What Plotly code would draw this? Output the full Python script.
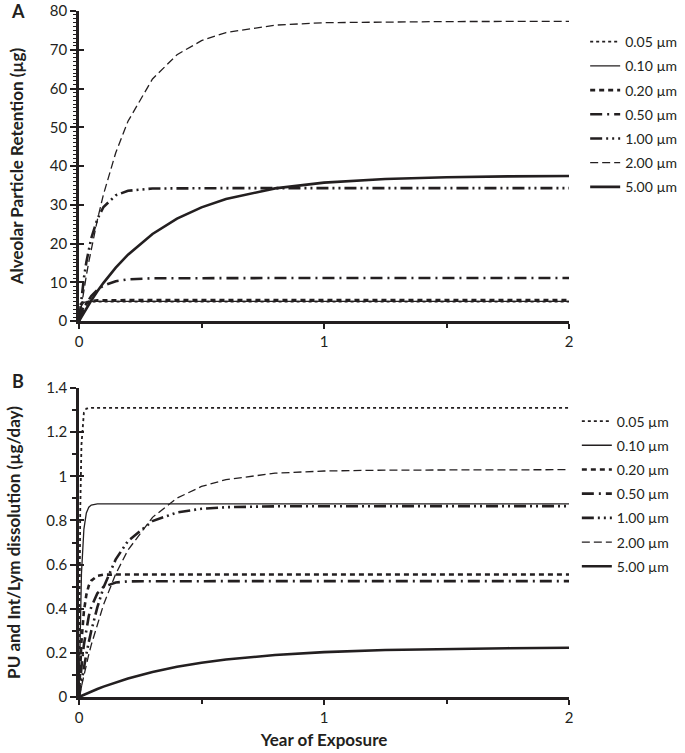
import plotly.graph_objects as go

# exposure time (years)
years = [0, 0.005, 0.01, 0.02, 0.03, 0.04, 0.05, 0.075, 0.1, 0.15, 0.2,
         0.3, 0.4, 0.5, 0.6, 0.8, 1.0, 1.25, 1.5, 1.75, 2.0]

sizes = ["0.05 µm", "0.10 µm", "0.20 µm", "0.50 µm", "1.00 µm", "2.00 µm", "5.00 µm"]

# Panel A: alveolar particle retention (µg)
ret_005 = [0, 3.9, 4.75, 4.99, 5.0, 5.0, 5.0, 5.0, 5.0, 5.0, 5.0,
           5.0, 5.0, 5.0, 5.0, 5.0, 5.0, 5.0, 5.0, 5.0, 5.0]
ret_010 = [0, 2.69, 3.96, 4.85, 5.04, 5.09, 5.1, 5.1, 5.1, 5.1, 5.1,
           5.1, 5.1, 5.1, 5.1, 5.1, 5.1, 5.1, 5.1, 5.1, 5.1]
ret_020 = [0, 1.40, 2.44, 3.78, 4.51, 4.91, 5.13, 5.34, 5.39, 5.4, 5.4,
           5.4, 5.4, 5.4, 5.4, 5.4, 5.4, 5.4, 5.4, 5.4, 5.4]
ret_050 = [0, 0.92, 1.76, 3.24, 4.50, 5.54, 6.43, 8.07, 9.14, 10.28, 10.75,
           11.04, 11.09, 11.1, 11.1, 11.1, 11.1, 11.1, 11.1, 11.1, 11.1]
ret_100 = [0, 3.19, 6.08, 11.08, 15.19, 18.59, 21.37, 26.34, 29.43, 32.45, 33.61,
           34.2, 34.29, 34.3, 34.3, 34.3, 34.3, 34.3, 34.3, 34.3, 34.3]
ret_200 = [0, 2.10, 4.14, 8.05, 11.75, 15.27, 18.55, 26.13, 32.70, 43.44, 51.56,
           62.46, 68.72, 72.35, 74.44, 76.35, 76.98, 77.22, 77.28, 77.3, 77.3]
ret_500 = [0, 0.57, 1.13, 2.22, 3.28, 4.31, 5.30, 7.67, 9.86, 13.77, 17.13,
           22.48, 26.43, 29.34, 31.48, 34.23, 35.72, 36.67, 37.11, 37.32, 37.42]

# Panel B: PU and Int/Lym dissolution (µg/day)
dis_005 = [0, 0.842, 1.143, 1.289, 1.307, 1.31, 1.31, 1.31, 1.31, 1.31, 1.31,
           1.31, 1.31, 1.31, 1.31, 1.31, 1.31, 1.31, 1.31, 1.31, 1.31]
dis_010 = [0, 0.350, 0.559, 0.761, 0.834, 0.860, 0.870, 0.875, 0.875, 0.875, 0.875,
           0.875, 0.875, 0.875, 0.875, 0.875, 0.875, 0.875, 0.875, 0.875, 0.875]
dis_020 = [0, 0.144, 0.250, 0.388, 0.463, 0.505, 0.527, 0.549, 0.554, 0.555, 0.555,
           0.555, 0.555, 0.555, 0.555, 0.555, 0.555, 0.555, 0.555, 0.555, 0.555]
dis_050 = [0, 0.073, 0.136, 0.237, 0.311, 0.367, 0.408, 0.470, 0.499, 0.519, 0.524,
           0.525, 0.525, 0.525, 0.525, 0.525, 0.525, 0.525, 0.525, 0.525, 0.525]
dis_100 = [0, 0.036, 0.070, 0.135, 0.195, 0.249, 0.299, 0.407, 0.496, 0.624, 0.707,
           0.797, 0.836, 0.853, 0.860, 0.864, 0.865, 0.865, 0.865, 0.865, 0.865]
dis_200 = [0, 0.026, 0.052, 0.102, 0.149, 0.193, 0.236, 0.333, 0.418, 0.558, 0.666,
           0.814, 0.901, 0.954, 0.985, 1.014, 1.024, 1.028, 1.029, 1.03, 1.03]
dis_500 = [0, 0.0026, 0.0052, 0.0103, 0.0153, 0.0201, 0.0248, 0.0362, 0.0470, 0.0666, 0.0841,
           0.1134, 0.1368, 0.1553, 0.1697, 0.1904, 0.2033, 0.2129, 0.2183, 0.2212, 0.2229]

retention = [ret_005, ret_010, ret_020, ret_050, ret_100, ret_200, ret_500]
dissolution = [dis_005, dis_010, dis_020, dis_050, dis_100, dis_200, dis_500]

INK = "#231f20"
FONT = "Lato"

# line style per particle size: (dash, width)
styles = [
    ("dot", 1.8),
    ("solid", 1.3),
    ("5px,4px", 2.6),
    ("12px,5px,2px,5px", 2.6),
    ("12px,4px,2px,4px,2px,4px", 2.6),
    ("8px,4px", 1.3),
    ("solid", 2.6),
]

fig = go.Figure()

for i, name in enumerate(sizes):
    dash, w = styles[i]
    fig.add_trace(go.Scatter(x=years, y=retention[i], name=name, mode="lines",
                             line=dict(color=INK, width=w, dash=dash),
                             xaxis="x", yaxis="y", legend="legend", legendgroup="a" + str(i)))
for i, name in enumerate(sizes):
    dash, w = styles[i]
    fig.add_trace(go.Scatter(x=years, y=dissolution[i], name=name, mode="lines",
                             line=dict(color=INK, width=w, dash=dash),
                             xaxis="x2", yaxis="y2", legend="legend2", legendgroup="b" + str(i)))

# dummy traces so the overlay axes draw their ticks
fig.add_trace(go.Scatter(x=[None], y=[None], xaxis="x", yaxis="y3", showlegend=False, hoverinfo="skip"))
fig.add_trace(go.Scatter(x=[None], y=[None], xaxis="x2", yaxis="y4", showlegend=False, hoverinfo="skip"))

top_dom = [0.548, 1.0]
bot_dom = [0.0, 0.4504]

xcommon = dict(range=[0, 2], dtick=1, tick0=0, showgrid=False, zeroline=False,
               showline=True, linecolor=INK, linewidth=2.5, automargin=False,
               ticks="outside", ticklen=5, tickwidth=2, tickcolor=INK,
               minor=dict(dtick=0.5, ticks="outside", ticklen=4, tickwidth=1.5, tickcolor=INK),
               tickfont=dict(family=FONT, size=15, color=INK))

ycommon = dict(showgrid=False, zeroline=False, showline=True, linecolor=INK, linewidth=2.5,
               automargin=False, ticks="outside", ticklen=6, tickwidth=2, tickcolor=INK,
               tickfont=dict(family=FONT, size=15, color=INK))

title_font = dict(family=FONT, size=17, color=INK)
leg_font = dict(family=FONT, size=14, color=INK)

fig.update_layout(
    width=685, height=753,
    margin=dict(l=79, r=116, t=11, b=56, autoexpand=False),
    paper_bgcolor="white", plot_bgcolor="white",
    showlegend=True,
    xaxis=dict(domain=[0, 1], anchor="y", **xcommon),
    xaxis2=dict(domain=[0, 1], anchor="y2", **xcommon,
                title=dict(text="<b>Year of Exposure</b>", standoff=10, font=title_font)),
    yaxis=dict(domain=top_dom, anchor="x", range=[0, 80], dtick=10,
               minor=dict(dtick=1, ticks="outside", ticklen=3, tickwidth=1.3, tickcolor=INK),
               title=dict(text="<b>Alveolar Particle Retention (µg)</b>", standoff=22, font=title_font),
               **ycommon),
    yaxis2=dict(domain=bot_dom, anchor="x2", range=[0, 1.4], dtick=0.2,
                minor=dict(dtick=0.1, ticks="outside", ticklen=4, tickwidth=1.5, tickcolor=INK),
                title=dict(text="<b>PU and Int/Lym dissolution (µg/day)</b>", standoff=22, font=title_font),
                **ycommon),
    # inner halves of the crossing major ticks
    yaxis3=dict(overlaying="y", matches="y", anchor="x", side="left", showline=False,
                showgrid=False, zeroline=False, showticklabels=False,
                ticks="inside", ticklen=5, tickwidth=2, tickcolor=INK, dtick=10),
    yaxis4=dict(overlaying="y2", matches="y2", anchor="x2", side="left", showline=False,
                showgrid=False, zeroline=False, showticklabels=False,
                ticks="inside", ticklen=5, tickwidth=2, tickcolor=INK, dtick=0.2),
    legend=dict(x=1.033, xanchor="left", y=0.978, yanchor="top", font=leg_font,
                bgcolor="rgba(0,0,0,0)", tracegroupgap=3, itemwidth=30),
    legend2=dict(x=1.016, xanchor="left", y=0.425, yanchor="top", font=leg_font,
                 bgcolor="rgba(0,0,0,0)", tracegroupgap=3, itemwidth=30),
    annotations=[
        dict(text="<b>A</b>", x=-0.125, y=1.0, xref="paper", yref="paper", showarrow=False,
             xanchor="center", yanchor="middle", font=dict(family=FONT, size=18, color=INK)),
        dict(text="<b>B</b>", x=-0.125, y=0.4606, xref="paper", yref="paper", showarrow=False,
             xanchor="center", yanchor="middle", font=dict(family=FONT, size=18, color=INK)),
    ],
)

# drop the page's default body margin so the figure sits at the window's corner
fig.write_html("out.html", config={"displayModeBar": False},
               post_script="document.body.style.margin = '0';")
